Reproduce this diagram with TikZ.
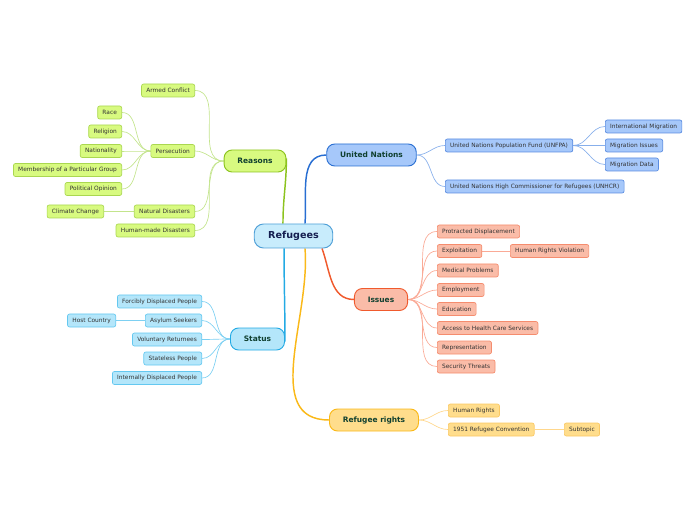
\documentclass[tikz,border=0pt]{standalone}
\usepackage{fontspec}
\setmainfont{DejaVu Sans}
\usetikzlibrary{backgrounds}
\definecolor{subtext}{RGB}{50,50,50}
\definecolor{maintext}{RGB}{16,64,48}
\definecolor{ctext}{RGB}{20,30,80}
\definecolor{cfill}{RGB}{200,236,252}
\definecolor{cdraw}{RGB}{80,160,215}
% Reasons
\definecolor{rsfill}{RGB}{216,250,128}
\definecolor{rsdraw}{RGB}{140,195,30}
\definecolor{rssub}{RGB}{170,215,80}
\definecolor{rsline}{RGB}{195,228,140}
% United Nations
\definecolor{unfill}{RGB}{166,200,250}
\definecolor{undraw}{RGB}{40,110,210}
\definecolor{unsub}{RGB}{90,140,225}
\definecolor{unline}{RGB}{135,175,235}
% Issues
\definecolor{isfill}{RGB}{250,188,168}
\definecolor{isdraw}{RGB}{240,90,45}
\definecolor{issub}{RGB}{245,140,110}
\definecolor{isline}{RGB}{250,170,150}
% Status
\definecolor{stfill}{RGB}{180,230,250}
\definecolor{stdraw}{RGB}{35,170,228}
\definecolor{stsub}{RGB}{100,200,240}
\definecolor{stline}{RGB}{125,208,242}
% Refugee rights
\definecolor{rrfill}{RGB}{255,221,140}
\definecolor{rrdraw}{RGB}{250,185,25}
\definecolor{rrsub}{RGB}{250,200,100}
\definecolor{rrline}{RGB}{255,215,140}
\begin{document}
\begin{tikzpicture}[x=0.75pt,y=0.75pt,yscale=-1,xscale=1,
  central/.style={draw=cdraw,fill=cfill,line width=0.7pt,rounded corners=7pt,minimum height=18pt,inner xsep=10.5pt,inner ysep=0pt,font=\fontsize{7.2}{8}\selectfont\bfseries,text=ctext},
  topic/.style={line width=0.7pt,rounded corners=6pt,minimum height=16.5pt,inner xsep=10pt,inner ysep=0pt,font=\fontsize{5.6}{6.5}\selectfont\bfseries,text=maintext},
  sub/.style={line width=0.5pt,rounded corners=1.5pt,minimum height=9.75pt,inner xsep=3.6pt,inner ysep=0pt,font=\fontsize{4.4}{5}\selectfont,text=subtext},
  rs/.style={sub,fill=rsfill,draw=rssub},
  un/.style={sub,fill=unfill,draw=unsub},
  is/.style={sub,fill=isfill,draw=issub},
  st/.style={sub,fill=stfill,draw=stsub},
  rr/.style={sub,fill=rrfill,draw=rrsub},
  link/.style={line width=0.5pt},
  branch/.style={line width=1.1pt}
]
\useasboundingbox (0,0) rectangle (696,520);

% Central topic
\node [central] (refugees) at (293.5,236) {Refugees};

% Main topics
\node [topic,fill=rsfill,draw=rsdraw] (reasons) at (255,161) {Reasons};
\node [topic,fill=unfill,draw=undraw] (un) at (371.5,155) {United Nations};
\node [topic,fill=isfill,draw=isdraw] (issues) at (381,299.5) {Issues};
\node [topic,fill=stfill,draw=stdraw] (status) at (257.5,339) {Status};
\node [topic,fill=rrfill,draw=rrdraw] (rights) at (374,420) {Refugee rights};

% Reasons subtopics
\node [rs,anchor=east] (armed) at (195,90.5) {Armed Conflict};
\node [rs,anchor=east] (persecution) at (195,151) {Persecution};
\node [rs,anchor=east] (natural) at (195,211.5) {Natural Disasters};
\node [rs,anchor=east] (humanmade) at (195,230.5) {Human-made Disasters};
\node [rs,anchor=east] (race) at (122,112.5) {Race};
\node [rs,anchor=east] (religion) at (122,131.5) {Religion};
\node [rs,anchor=east] (nationality) at (122,151) {Nationality};
\node [rs,anchor=east] (membership) at (122,170) {Membership of a Particular Group};
\node [rs,anchor=east] (political) at (122,189) {Political Opinion};
\node [rs,anchor=east] (climate) at (104,211.5) {Climate Change};

% United Nations subtopics
\node [un,anchor=west] (unfpa) at (445,145.5) {United Nations Population Fund (UNFPA)};
\node [un,anchor=west] (unhcr) at (445,186.5) {United Nations High Commissioner for Refugees (UNHCR)};
\node [un,anchor=west] (intmig) at (605,126.5) {International Migration};
\node [un,anchor=west] (migissues) at (605,145.5) {Migration Issues};
\node [un,anchor=west] (migdata) at (605,164.5) {Migration Data};

% Issues subtopics
\node [is,anchor=west] (protracted) at (437,231.5) {Protracted Displacement};
\node [is,anchor=west] (exploitation) at (437,251) {Exploitation};
\node [is,anchor=west] (medical) at (437,270.5) {Medical Problems};
\node [is,anchor=west] (employment) at (437,290) {Employment};
\node [is,anchor=west] (education) at (437,309) {Education};
\node [is,anchor=west] (access) at (437,328) {Access to Health Care Services};
\node [is,anchor=west] (representation) at (437,347.5) {Representation};
\node [is,anchor=west] (security) at (437,366.5) {Security Threats};
\node [is,anchor=west] (violation) at (510,251) {Human Rights Violation};

% Status subtopics
\node [st,anchor=east] (forcibly) at (202,301.5) {Forcibly Displaced People};
\node [st,anchor=east] (asylum) at (202,320.5) {Asylum Seekers};
\node [st,anchor=east] (voluntary) at (202,339.5) {Voluntary Returnees};
\node [st,anchor=east] (stateless) at (202,358.5) {Stateless People};
\node [st,anchor=east] (internally) at (202,378) {Internally Displaced People};
\node [st,anchor=east] (host) at (116,320.5) {Host Country};

% Refugee rights subtopics
\node [rr,anchor=west] (humanrights) at (448,410.5) {Human Rights};
\node [rr,anchor=west] (convention) at (448,429.5) {1951 Refugee Convention};
\node [rr,anchor=west] (subtopic) at (564,429.5) {Subtopic};

\begin{scope}[on background layer]
% Main branches (y axis points down, so angles are flipped)
\draw [branch,rsdraw] ([xshift=-7.9pt]refugees.north) to[out=-90,in=90] ([yshift=-2pt]reasons.east);
\draw [branch,undraw] ([xshift=8.6pt]refugees.north) to[out=-85,in=180] (un.west);
\draw [branch,isdraw] ([xshift=21.4pt]refugees.south) to[out=70,in=180] (issues.west);
\draw [branch,stdraw] ([xshift=-7.1pt]refugees.south) to[out=90,in=-90] ([yshift=2pt]status.east);
\draw [branch,rrdraw] ([xshift=8.6pt]refugees.south) to[out=85,in=180] (rights.west);

% Reasons links
\foreach \n in {armed,persecution,natural,humanmade}
  \draw [link,rsline] (reasons.west) to[out=180,in=0] (\n.east);
\foreach \n in {race,religion,nationality,membership,political}
  \draw [link,rsline] (persecution.west) to[out=180,in=0] (\n.east);
\draw [link,rsline] (natural.west) -- (climate.east);

% United Nations links
\foreach \n in {unfpa,unhcr}
  \draw [link,unline] (un.east) to[out=0,in=180] (\n.west);
\foreach \n in {intmig,migissues,migdata}
  \draw [link,unline] (unfpa.east) to[out=0,in=180] (\n.west);

% Issues links
\foreach \n in {protracted,exploitation,medical,employment,education,access,representation,security}
  \draw [link,isline] (issues.east) to[out=0,in=180] (\n.west);
\draw [link,isline] (exploitation.east) -- (violation.west);

% Status links
\foreach \n in {forcibly,asylum,voluntary,stateless,internally}
  \draw [link,stline] (status.west) to[out=180,in=0] (\n.east);
\draw [link,stline] (asylum.west) -- (host.east);

% Refugee rights links
\foreach \n in {humanrights,convention}
  \draw [link,rrline] (rights.east) to[out=0,in=180] (\n.west);
\draw [link,rrline] (convention.east) -- (subtopic.west);
\end{scope}

\end{tikzpicture}
\end{document}
